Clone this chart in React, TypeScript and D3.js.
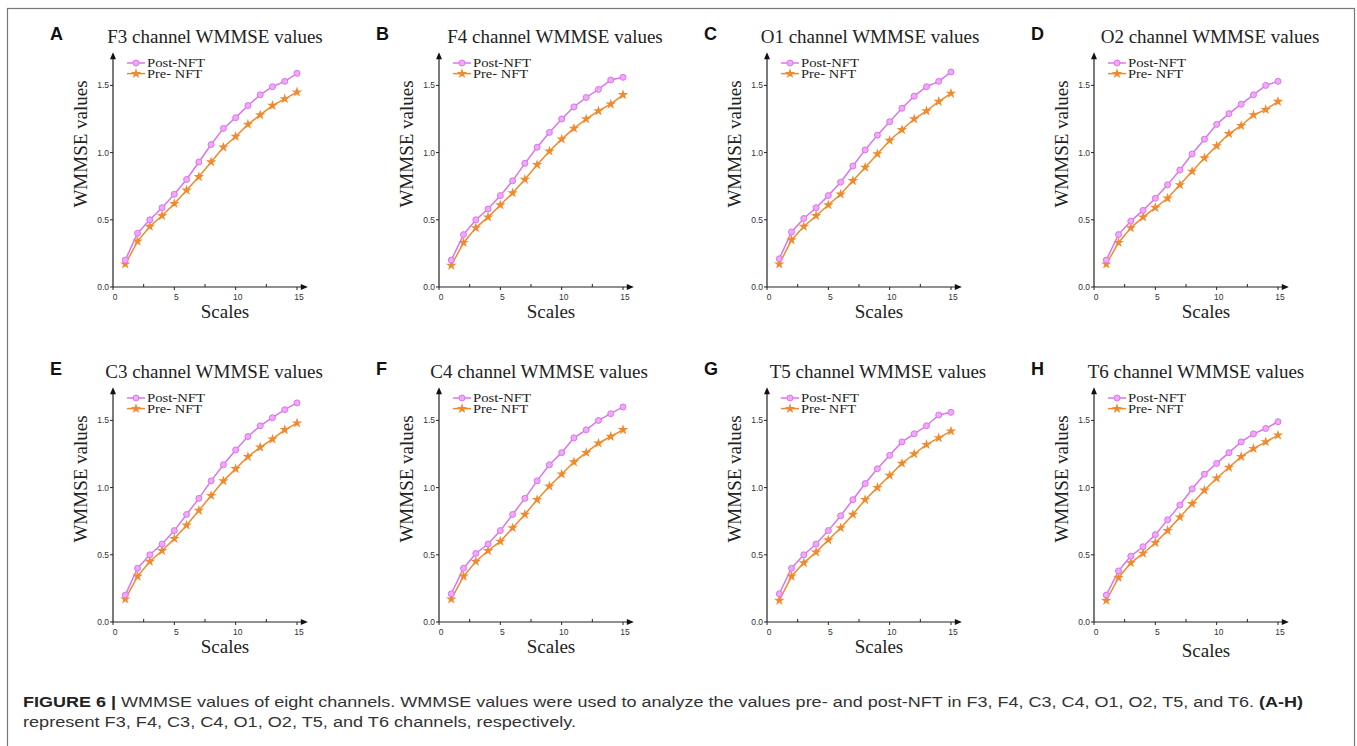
import React from "react";
import * as d3 from "d3";

const scales = [1, 2, 3, 4, 5, 6, 7, 8, 9, 10, 11, 12, 13, 14, 15];
const panelLetters = ["A", "B", "C", "D", "E", "F", "G", "H"];
const channels = ["F3", "F4", "O1", "O2", "C3", "C4", "T5", "T6"];
const seriesNames = ["Post-NFT", "Pre- NFT"];
const yTicks = [0, 0.5, 1.0, 1.5];
const xTicks = [0, 5, 10, 15];
const xMinorTicks = [2.5, 7.5, 12.5];

const postF3 = [0.2, 0.4, 0.5, 0.59, 0.69, 0.8, 0.93, 1.06, 1.18, 1.26, 1.35, 1.43, 1.49, 1.53, 1.59];
const preF3 = [0.17, 0.34, 0.45, 0.53, 0.62, 0.72, 0.82, 0.93, 1.04, 1.12, 1.21, 1.28, 1.35, 1.4, 1.45];
const postF4 = [0.2, 0.39, 0.5, 0.58, 0.68, 0.79, 0.92, 1.04, 1.15, 1.25, 1.34, 1.41, 1.47, 1.54, 1.56];
const preF4 = [0.16, 0.33, 0.44, 0.52, 0.61, 0.7, 0.8, 0.91, 1.01, 1.1, 1.18, 1.25, 1.31, 1.36, 1.43];
const postO1 = [0.21, 0.41, 0.51, 0.59, 0.68, 0.78, 0.9, 1.02, 1.13, 1.23, 1.33, 1.42, 1.49, 1.53, 1.6];
const preO1 = [0.17, 0.35, 0.45, 0.53, 0.61, 0.69, 0.79, 0.89, 0.99, 1.09, 1.17, 1.25, 1.31, 1.38, 1.44];
const postO2 = [0.2, 0.39, 0.49, 0.57, 0.66, 0.76, 0.87, 0.99, 1.1, 1.21, 1.29, 1.36, 1.43, 1.5, 1.53];
const preO2 = [0.17, 0.33, 0.44, 0.52, 0.59, 0.66, 0.76, 0.86, 0.96, 1.05, 1.14, 1.2, 1.28, 1.32, 1.38];
const postC3 = [0.2, 0.4, 0.5, 0.58, 0.68, 0.8, 0.92, 1.05, 1.17, 1.28, 1.38, 1.46, 1.52, 1.58, 1.63];
const preC3 = [0.17, 0.34, 0.45, 0.53, 0.62, 0.72, 0.83, 0.94, 1.05, 1.14, 1.23, 1.3, 1.36, 1.43, 1.48];
const postC4 = [0.21, 0.4, 0.51, 0.58, 0.68, 0.8, 0.92, 1.05, 1.17, 1.26, 1.37, 1.43, 1.5, 1.55, 1.6];
const preC4 = [0.17, 0.34, 0.45, 0.53, 0.6, 0.7, 0.8, 0.91, 1.01, 1.1, 1.19, 1.26, 1.33, 1.38, 1.43];
const postT5 = [0.21, 0.4, 0.5, 0.58, 0.68, 0.79, 0.91, 1.03, 1.14, 1.24, 1.34, 1.4, 1.46, 1.54, 1.56];
const preT5 = [0.16, 0.34, 0.44, 0.52, 0.61, 0.7, 0.8, 0.91, 1.0, 1.09, 1.18, 1.25, 1.32, 1.37, 1.42];
const postT6 = [0.2, 0.38, 0.49, 0.56, 0.65, 0.76, 0.87, 0.99, 1.1, 1.18, 1.26, 1.34, 1.4, 1.44, 1.49];
const preT6 = [0.16, 0.33, 0.44, 0.51, 0.59, 0.68, 0.78, 0.88, 0.98, 1.07, 1.15, 1.23, 1.29, 1.34, 1.39];

const postSeries = [postF3, postF4, postO1, postO2, postC3, postC4, postT5, postT6];
const preSeries = [preF3, preF4, preO1, preO2, preC3, preC4, preT5, preT6];

// layout
const colAxisX = [113, 439, 767, 1094];
const rowAxisY = [287, 622];
const titleDx = [102, 116, 103, 116, 101, 100, 111, 102];
const scalesDy = [31, 31, 31, 31, 31, 31, 31, 35];
const PLOT_W = 184; // 0..15
const PLOT_H = 201.6; // 0..1.5

const POST_COLOR = "#dc74ee";
const POST_FILL = "#eeaaf7";
const PRE_COLOR = "#f08a2c";
const SERIF = "'Liberation Serif', 'Times New Roman', serif";
const SANS = "'Liberation Sans', Arial, sans-serif";

const starPath = d3.symbol().type(d3.symbolStar).size(34)() as string;

function Panel({ idx }: { idx: number }) {
  const col = idx % 4;
  const row = Math.floor(idx / 4);
  const ax = colAxisX[col];
  const ay = rowAxisY[row];
  const x = d3.scaleLinear().domain([0, 15]).range([ax, ax + PLOT_W]);
  const y = d3.scaleLinear().domain([0, 1.5]).range([ay, ay - PLOT_H]);
  const line = d3
    .line<number>()
    .x((_, i) => x(scales[i]))
    .y((d) => y(d));
  const post = postSeries[idx];
  const pre = preSeries[idx];
  const yTop = y(1.74);
  const xEnd = x(15.8);

  return (
    <g>
      <text x={ax - 63} y={ay - 247} fontFamily={SANS} fontWeight="bold" fontSize={18} fill="#111">
        {panelLetters[idx]}
      </text>
      <text x={ax + titleDx[idx]} y={ay - 244} fontFamily={SERIF} fontSize={19} fill="#222" textAnchor="middle">
        {`${channels[idx]} channel WMMSE values`}
      </text>
      {/* axes */}
      <line x1={ax} y1={ay} x2={ax} y2={yTop + 4} stroke="#222" strokeWidth={1.2} />
      <path d={`M${ax - 3},${yTop + 6} L${ax},${yTop - 1} L${ax + 3},${yTop + 6} Z`} fill="#111" />
      <line x1={ax} y1={ay} x2={xEnd - 4} y2={ay} stroke="#222" strokeWidth={1.2} />
      <path d={`M${xEnd - 6},${ay - 3} L${xEnd + 1},${ay} L${xEnd - 6},${ay + 3} Z`} fill="#111" />
      {yTicks.map((t) => (
        <g key={"yt" + t}>
          <line x1={ax - 3} x2={ax} y1={y(t)} y2={y(t)} stroke="#222" strokeWidth={1} />
          <text x={ax - 4} y={y(t) + 3} fontFamily={SANS} fontSize={8.5} fill="#333" textAnchor="end">
            {t.toFixed(1)}
          </text>
        </g>
      ))}
      {xTicks.map((t) => (
        <g key={"xt" + t}>
          <line x1={x(t)} x2={x(t)} y1={ay} y2={ay + 3} stroke="#222" strokeWidth={1} />
          <text x={x(t) + 2} y={ay + 13} fontFamily={SANS} fontSize={8.5} fill="#333" textAnchor="middle">
            {t}
          </text>
        </g>
      ))}
      {xMinorTicks.map((t) => (
        <line key={"xm" + t} x1={x(t)} x2={x(t)} y1={ay} y2={ay - 3} stroke="#222" strokeWidth={1} />
      ))}
      <text x={ax + 112} y={ay + scalesDy[idx]} fontFamily={SERIF} fontSize={19} fill="#222" textAnchor="middle">
        Scales
      </text>
      <text
        transform={`translate(${ax - 26},${ay - 143}) rotate(-90)`}
        fontFamily={SERIF}
        fontSize={19}
        fill="#222"
        textAnchor="middle"
      >
        WMMSE values
      </text>
      {/* series */}
      <path d={line(pre) as string} fill="none" stroke={PRE_COLOR} strokeWidth={1.5} />
      <path d={line(post) as string} fill="none" stroke={POST_COLOR} strokeWidth={1.5} />
      {pre.map((v, i) => (
        <path key={"pr" + i} d={starPath} transform={`translate(${x(scales[i])},${y(v)})`} fill={PRE_COLOR} />
      ))}
      {post.map((v, i) => (
        <circle key={"po" + i} cx={x(scales[i])} cy={y(v)} r={3} fill={POST_FILL} stroke={POST_COLOR} strokeWidth={1} />
      ))}
      {/* legend */}
      {[0, 1].map((k) => {
        const ly = ay - 224 + k * 10.6;
        const color = k === 0 ? POST_COLOR : PRE_COLOR;
        return (
          <g key={"lg" + k}>
            <line x1={ax + 14} x2={ax + 32} y1={ly} y2={ly} stroke={color} strokeWidth={1.5} />
            {k === 0 ? (
              <circle cx={ax + 23} cy={ly} r={3} fill={POST_FILL} stroke={POST_COLOR} strokeWidth={1} />
            ) : (
              <path d={starPath} transform={`translate(${ax + 23},${ly})`} fill={PRE_COLOR} />
            )}
            <text
              x={ax + 34}
              y={ly + 4}
              fontFamily={SERIF}
              fontSize={13}
              fill="#222"
              textLength={k === 0 ? 58 : 55}
              lengthAdjust="spacingAndGlyphs"
            >
              {seriesNames[k]}
            </text>
          </g>
        );
      })}
    </g>
  );
}

export default function App() {
  return (
    <svg
      width={1357}
      height={746}
      style={{ position: "fixed", left: 0, top: 0, background: "#fff" }}
    >
      <rect x={0} y={0} width={1357} height={746} fill="#fff" />
      <rect x={7.5} y={8.5} width={1347} height={760} fill="none" stroke="#777" strokeWidth={1.2} />
      {panelLetters.map((_, i) => (
        <Panel key={i} idx={i} />
      ))}
      <text x={23} y={707} fontFamily={SANS} fontSize={14} fill="#333" textLength={1280} lengthAdjust="spacingAndGlyphs">
        <tspan fontWeight="bold" fill="#222">FIGURE 6 |</tspan>
        <tspan> WMMSE values of eight channels. WMMSE values were used to analyze the values pre- and post-NFT in F3, F4, C3, C4, O1, O2, T5, and T6. </tspan>
        <tspan fontWeight="bold" fill="#222">(A-H)</tspan>
      </text>
      <text x={23} y={727} fontFamily={SANS} fontSize={14} fill="#333" textLength={553} lengthAdjust="spacingAndGlyphs">
        represent F3, F4, C3, C4, O1, O2, T5, and T6 channels, respectively.
      </text>
    </svg>
  );
}
